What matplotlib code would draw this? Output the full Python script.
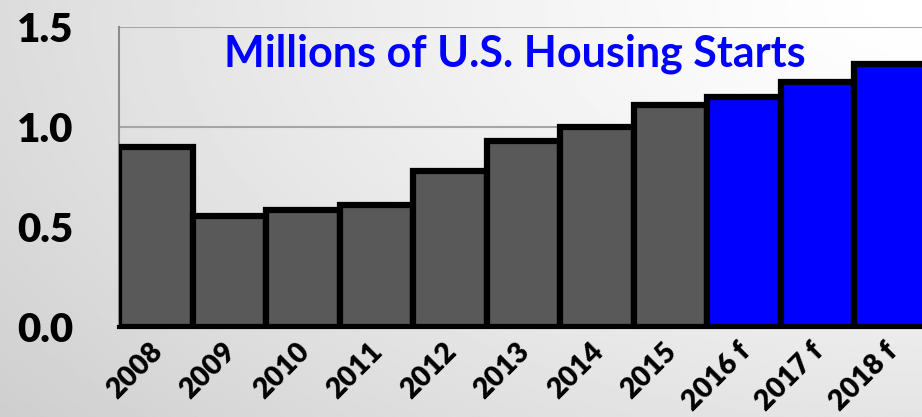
import numpy as np
import matplotlib
matplotlib.use("Agg")
import matplotlib.pyplot as plt
import matplotlib.transforms as mtransforms

# data
years = ["2008", "2009", "2010", "2011", "2012", "2013", "2014", "2015",
         "2016 f", "2017 f", "2018 f"]
starts = [0.90, 0.555, 0.585, 0.61, 0.78, 0.93, 1.00, 1.11, 1.15, 1.225, 1.315]
is_forecast = [False] * 8 + [True] * 3

yticks = [0.0, 0.5, 1.0, 1.5]
ytick_labels = ["0.0", "0.5", "1.0", "1.5"]

plt.rcParams['font.family'] = ['Lato', 'DejaVu Sans']

fig = plt.figure(figsize=(9.22, 4.17), dpi=100)

# background gradient (grey bottom-left to white top-right)
bg = fig.add_axes([0, 0, 1, 1], zorder=-10)
gx, gy = np.meshgrid(np.linspace(0, 1, 300), np.linspace(0, 1, 150))
d = np.sqrt(((1 - gx) * 1.0) ** 2 + (gy * 0.8) ** 2)
shade = 1 - 0.19 * np.clip(d / 1.28, 0, 1) ** 1.3
bg.imshow(shade, cmap="gray", vmin=0, vmax=1, aspect="auto",
          extent=[0, 1, 0, 1], origin="upper")
bg.set_axis_off()

ax = fig.add_axes([119 / 922, 90 / 417, 808.5 / 922, 300 / 417])
ax.patch.set_alpha(0)

colors = ["#0000ff" if f else "#595959" for f in is_forecast]
x = np.arange(len(years))
ax.bar(x, starts, width=1.0, color=colors, edgecolor="black", linewidth=4.5,
       zorder=3)

ax.set_xlim(-0.5, len(years) - 0.5)
ax.set_ylim(0, 1.5)
ax.set_yticks(yticks)
ax.set_yticklabels(ytick_labels, fontsize=29, fontweight="heavy")
ax.set_xticks(x)
ax.set_xticklabels(years, rotation=45, ha="right", rotation_mode="anchor",
                   fontsize=20.5, fontweight="heavy")
ax.tick_params(axis="both", length=0)
ax.tick_params(axis="y", pad=33)
ax.tick_params(axis="x", pad=8)

# nudge the rotated labels a little to the left
shift = mtransforms.ScaledTranslation(-7 / 100, 0, fig.dpi_scale_trans)
for lab in ax.get_xticklabels():
    lab.set_transform(lab.get_transform() + shift)

ax.grid(axis="y", color="#a6a6a6", linewidth=1.5, zorder=0)
for side in ["top", "right"]:
    ax.spines[side].set_visible(False)
ax.spines["left"].set_color("#8c8c8c")
ax.spines["left"].set_linewidth(1.5)
ax.spines["bottom"].set_color("black")
ax.spines["bottom"].set_linewidth(3)
ax.spines["bottom"].set_zorder(5)

ax.text(0.489, 0.98, "Millions of U.S. Housing Starts", transform=ax.transAxes,
        ha="center", va="top", color="#0000ff", fontsize=31, fontweight="bold",
        zorder=6)

fig.savefig("out.png", dpi=100)
